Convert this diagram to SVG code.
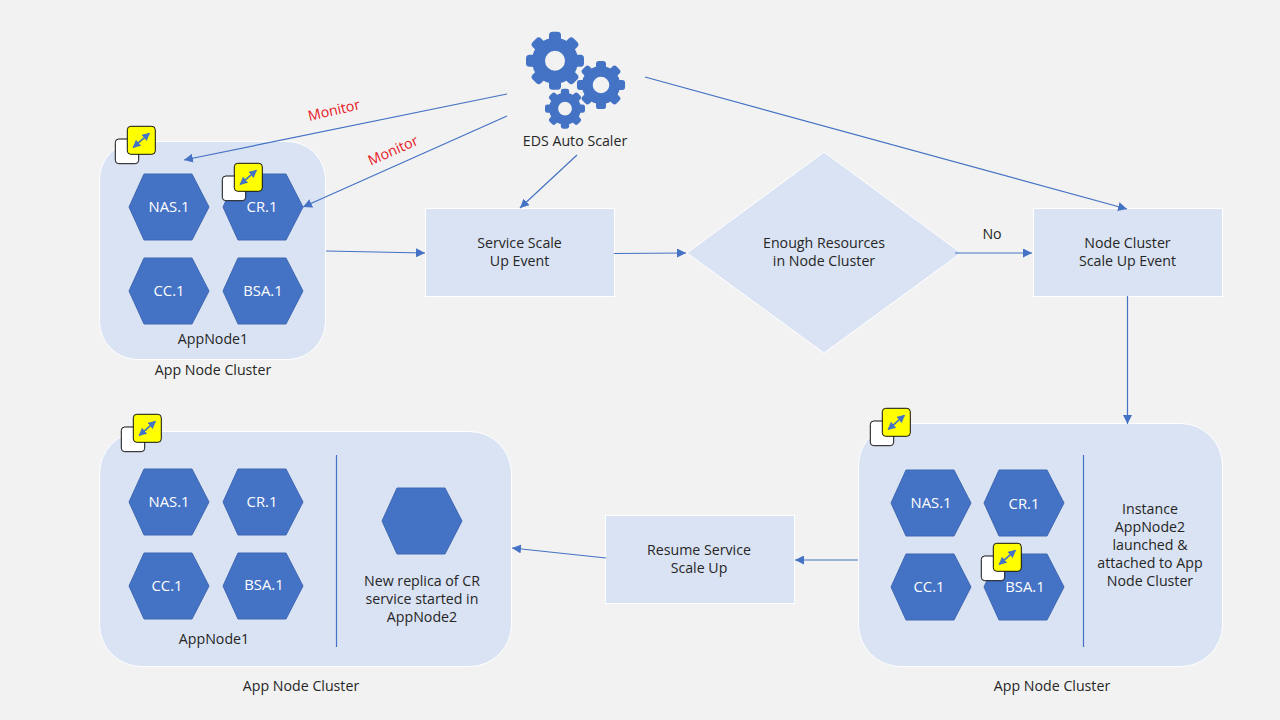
<svg xmlns="http://www.w3.org/2000/svg" xmlns:xlink="http://www.w3.org/1999/xlink" width="1280" height="720" viewBox="0 0 1280 720">
<style>
text{font-family:"Open Sans","Noto Sans","Liberation Sans",sans-serif;font-size:14.2px;fill:#262626;text-anchor:middle}
text.w{fill:#fff;font-size:14.8px}
text.r{fill:#e8141c}
.panel{fill:#dae3f3;stroke:#fff;stroke-width:1}
.box{fill:#dae3f3;stroke:#fff;stroke-width:1}
.hex{fill:#4472c4;stroke:#3f68b2;stroke-width:1}
.c{fill:none;stroke:#4472c4;stroke-width:1.2;marker-end:url(#a)}
.d{fill:none;stroke:#4472c4;stroke-width:1.2}
.g{fill:#4472c4}
.wb{fill:#fff;stroke:#111;stroke-width:1}
.yb{fill:#ff0;stroke:#111;stroke-width:1}
.ba{stroke:#4472c4;stroke-width:1.6;marker-start:url(#b);marker-end:url(#b)}
</style>
<defs>
<marker id="a" markerUnits="userSpaceOnUse" markerWidth="10" markerHeight="9" refX="9" refY="4.5" orient="auto"><path d="M0 0L9 4.5L0 9Z" fill="#4472c4"/></marker>
<marker id="b" markerUnits="userSpaceOnUse" markerWidth="9" markerHeight="9" refX="7" refY="4" orient="auto-start-reverse"><path d="M0 0L8 4L0 8Z" fill="#4472c4"/></marker>
<polygon id="h" class="hex" points="-40,0 -25,-33 23,-33 40,0 23,33 -25,33"/>
<g id="bd">
<rect class="wb" x="-12" y="12.700" width="23.400" height="24.700" rx="3.500"/>
<rect class="yb" x="0" y="0" width="28" height="28" rx="3.500"/>
<line class="ba" x1="6" y1="21" x2="22" y2="7"/>
</g>
<rect id="t" class="g" x="-6" y="-29" width="12" height="12" rx="3.500"/>
<g id="gear">
<circle cx="0" cy="0" r="16.500" fill="none" stroke="#4472c4" stroke-width="13"/>
<use xlink:href="#t"/>
<use xlink:href="#t" transform="rotate(45)"/>
<use xlink:href="#t" transform="rotate(90)"/>
<use xlink:href="#t" transform="rotate(135)"/>
<use xlink:href="#t" transform="rotate(180)"/>
<use xlink:href="#t" transform="rotate(225)"/>
<use xlink:href="#t" transform="rotate(270)"/>
<use xlink:href="#t" transform="rotate(315)"/>
</g>
</defs>
<rect width="1280" height="720" fill="#f2f2f2"/>

<g id="scaler">
<use xlink:href="#gear" transform="translate(555 60.700)"/>
<use xlink:href="#gear" transform="translate(601 85) scale(0.83)"/>
<use xlink:href="#gear" transform="translate(565 108.700) scale(0.69)"/>
<text x="575" y="146">EDS Auto Scaler</text>
</g>

<g id="cluster1">
<rect class="panel" x="99.500" y="141.500" width="226" height="218" rx="38"/>
<text x="213" y="375">App Node Cluster</text>
<text x="213" y="344">AppNode1</text>
</g>
<g id="c1-nas"><use xlink:href="#h" x="169" y="207"/><text class="w" x="169" y="212">NAS.1</text></g>
<g id="c1-cr"><use xlink:href="#h" x="263" y="207"/><text class="w" x="262" y="212">CR.1</text></g>
<g id="c1-cc"><use xlink:href="#h" x="169" y="291"/><text class="w" x="169" y="296">CC.1</text></g>
<g id="c1-bsa"><use xlink:href="#h" x="263" y="291"/><text class="w" x="263" y="296">BSA.1</text></g>
<g id="c1-badge"><use xlink:href="#bd" x="127.300" y="126.300"/></g>
<g id="c1-cr-badge"><use xlink:href="#bd" x="234.300" y="163.300"/></g>

<g id="service-event"><rect class="box" x="425.500" y="208.500" width="189" height="88"/><text x="519.500" y="248">Service Scale</text><text x="519.500" y="266">Up Event</text></g>
<g id="decision"><polygon class="box" points="824,152 961,253 824,353 687,253"/><text x="824" y="248">Enough Resources</text><text x="824" y="266">in Node Cluster</text></g>
<g id="node-event"><rect class="box" x="1033.500" y="208.500" width="189" height="88"/><text x="1127.500" y="248">Node Cluster</text><text x="1127.500" y="266">Scale Up Event</text></g>
<g id="resume"><rect class="box" x="605.500" y="515.500" width="189" height="88"/><text x="699" y="555">Resume Service</text><text x="699" y="573">Scale Up</text></g>

<g id="cluster2">
<rect class="panel" x="858.500" y="423.500" width="364" height="243" rx="42"/>
<line class="d" x1="1083.500" y1="455" x2="1083.500" y2="647"/>
<text x="1150" y="514">Instance</text><text x="1150" y="532">AppNode2</text><text x="1150" y="550">launched &amp;</text><text x="1150" y="568">attached to App</text><text x="1150" y="586">Node Cluster</text>
<text x="1052" y="691">App Node Cluster</text>
</g>
<g id="c2-nas"><use xlink:href="#h" x="931" y="503"/><text class="w" x="931" y="508">NAS.1</text></g>
<g id="c2-cr"><use xlink:href="#h" x="1024" y="503"/><text class="w" x="1024" y="509">CR.1</text></g>
<g id="c2-cc"><use xlink:href="#h" x="931" y="587"/><text class="w" x="929" y="592">CC.1</text></g>
<g id="c2-bsa"><use xlink:href="#h" x="1024" y="587"/><text class="w" x="1025" y="592">BSA.1</text></g>
<g id="c2-badge"><use xlink:href="#bd" x="882.300" y="408.300"/></g>
<g id="c2-bsa-badge"><use xlink:href="#bd" x="993.300" y="543.300"/></g>

<g id="cluster3">
<rect class="panel" x="99.500" y="431.500" width="412" height="235" rx="42"/>
<line class="d" x1="336.500" y1="455" x2="336.500" y2="647"/>
<text x="214" y="644">AppNode1</text>
<text x="301" y="691">App Node Cluster</text>
<text x="422" y="586">New replica of CR</text><text x="422" y="604">service started in</text><text x="422" y="622">AppNode2</text>
</g>
<g id="c3-nas"><use xlink:href="#h" x="169" y="502"/><text class="w" x="169" y="507">NAS.1</text></g>
<g id="c3-cr"><use xlink:href="#h" x="263" y="502"/><text class="w" x="262" y="507">CR.1</text></g>
<g id="c3-cc"><use xlink:href="#h" x="169" y="586"/><text class="w" x="167" y="591">CC.1</text></g>
<g id="c3-bsa"><use xlink:href="#h" x="263" y="586"/><text class="w" x="264" y="590">BSA.1</text></g>
<g id="c3-new"><use xlink:href="#h" x="422" y="521"/></g>
<g id="c3-badge"><use xlink:href="#bd" x="133.300" y="414.300"/></g>

<g id="connectors">
<path class="c" d="M507 94L184 160"/>
<path class="c" d="M507 116L303 207"/>
<path class="c" d="M577 155L520 208"/>
<path class="c" d="M645 77L1127 209"/>
<path class="c" d="M326 251L425 253"/>
<path class="c" d="M614 253.500L686 253"/>
<path class="c" d="M955 253H1032"/>
<path class="c" d="M1127.500 296V424"/>
<path class="c" d="M858 560H795"/>
<path class="c" d="M606 558L512 548"/>
</g>
<text class="r" transform="translate(335 115) rotate(-13)">Monitor</text>
<text class="r" transform="translate(395 155) rotate(-24)">Monitor</text>
<text x="992" y="239">No</text>
</svg>
